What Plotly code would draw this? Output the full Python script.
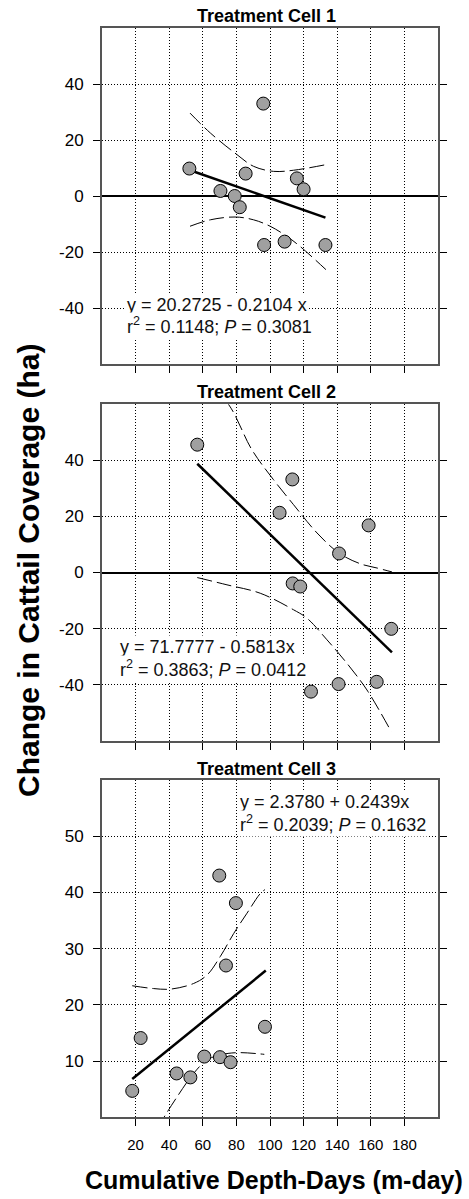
import plotly.graph_objects as go

W, H = 469, 1199

# ---------------- data ----------------
# Treatment Cell 1
c1_x = [52, 96, 85.5, 70.5, 79, 82, 116, 120, 96.5, 108.7, 133]
c1_y = [9.8, 33, 8, 1.8, 0, -4, 6.3, 2.4, -17.5, -16.3, -17.5]
c1_fit_x = [52, 133]
c1_fit_y = [9.3, -7.7]
c1_up_x = [52.4, 64.5, 80.3, 90.2, 102.1, 114, 133.3]
c1_up_y = [29.6, 22.5, 14.8, 10.6, 8.8, 9.2, 11.2]
c1_lo_x = [52.4, 64.5, 79.2, 90.2, 100.1, 110, 117.9, 133.3]
c1_lo_y = [-10.8, -8.5, -7.5, -8.5, -10.8, -14.4, -18, -26.3]

# Treatment Cell 2
c2_x = [56.7, 113.3, 105.7, 158.7, 141.1, 113.5, 118, 172.2, 124.4, 140.8, 163.5]
c2_y = [45.6, 33.2, 21.3, 16.8, 6.8, -3.9, -5, -20.1, -42.5, -39.8, -39]
c2_fit_x = [56.7, 172.6]
c2_fit_y = [38.8, -28.5]
c2_up_x = [56.7, 75.4, 89.2, 102.1, 114, 128, 141.1, 153.8, 163.7, 172.6]
c2_up_y = [72, 59.9, 43.8, 33.1, 24.2, 14.1, 6.9, 3.1, 1.6, 0.2]
c2_lo_x = [56.7, 74.4, 94.2, 114, 122, 133.9, 145.8, 157.7, 172.2]
c2_lo_y = [-1.8, -4.4, -7.4, -13.3, -16.3, -24, -32.4, -41.9, -56.8]

# Treatment Cell 3
c3_x = [18, 23, 44.4, 52.6, 60.9, 69.8, 70.2, 73.8, 76.5, 79.7, 97]
c3_y = [4.7, 14.1, 7.8, 7.1, 10.8, 43, 10.7, 27, 9.8, 38.1, 16.1]
c3_fit_x = [18, 97.5]
c3_fit_y = [6.8, 26.1]
c3_up_x = [18, 30.7, 40.7, 54.5, 62.5, 70.4, 78.4, 86.3, 94.2, 97]
c3_up_y = [23.4, 22.9, 22.8, 23.8, 25.3, 28.6, 32.7, 36.3, 39.8, 40.5]
c3_lo_x = [33, 36.9, 44.6, 54.5, 62.5, 70.4, 80.4, 96.6]
c3_lo_y = [-2, 0, 3.6, 7.8, 10.2, 11.1, 11.5, 11.2]

titles = ["Treatment Cell 1", "Treatment Cell 2", "Treatment Cell 3"]
eq_lines = [
    ["y = 20.2725 - 0.2104 x", "r<sup>2</sup> = 0.1148; <i>P</i> = 0.3081"],
    ["y = 71.7777 - 0.5813x", "r<sup>2</sup> = 0.3863; <i>P</i> = 0.0412"],
    ["y = 2.3780 + 0.2439x", "r<sup>2</sup> = 0.2039; <i>P</i> = 0.1632"],
]
x_ticks = [20, 40, 60, 80, 100, 120, 140, 160, 180]
x_tick_text = ["20", "40", "60", "80", "100", "120", "140", "160", "180"]
y_ticks_12 = [-40, -20, 0, 20, 40]
y_tick_text_12 = ["-40", "-20", "0", "20", "40"]
y_ticks_3 = [10, 20, 30, 40, 50]
y_tick_text_3 = ["10", "20", "30", "40", "50"]
x_title = "Cumulative Depth-Days (m-day)"
y_title = "Change in Cattail Coverage (ha)"

# ---------------- layout helpers ----------------
def px_x(p):
    return p / W

def px_y(p):
    return 1 - p / H

panels_px = [(28, 364), (404.3, 740.7), (780, 1117.3)]
x_dom = [px_x(102), px_x(438)]

fig = go.Figure()
sets = [
    (c1_x, c1_y, c1_fit_x, c1_fit_y, c1_up_x, c1_up_y, c1_lo_x, c1_lo_y),
    (c2_x, c2_y, c2_fit_x, c2_fit_y, c2_up_x, c2_up_y, c2_lo_x, c2_lo_y),
    (c3_x, c3_y, c3_fit_x, c3_fit_y, c3_up_x, c3_up_y, c3_lo_x, c3_lo_y),
]
dash = "15px,5px"
for i, (px_, py_, fx, fy, ux, uy, lx, ly) in enumerate(sets):
    xa = "x" if i == 0 else f"x{i+1}"
    ya = "y" if i == 0 else f"y{i+1}"
    fig.add_trace(go.Scatter(x=ux, y=uy, mode="lines", xaxis=xa, yaxis=ya,
                             line=dict(color="black", width=1, dash=dash, shape="spline"),
                             showlegend=False))
    fig.add_trace(go.Scatter(x=lx, y=ly, mode="lines", xaxis=xa, yaxis=ya,
                             line=dict(color="black", width=1, dash=dash, shape="spline"),
                             showlegend=False))
    fig.add_trace(go.Scatter(x=fx, y=fy, mode="lines", xaxis=xa, yaxis=ya,
                             line=dict(color="black", width=2.5), showlegend=False))
    fig.add_trace(go.Scatter(x=px_, y=py_, mode="markers", xaxis=xa, yaxis=ya,
                             marker=dict(size=13, color="#a0a0a0",
                                         line=dict(color="black", width=1)),
                             showlegend=False, cliponaxis=False))

axis_common = dict(showgrid=True, gridcolor="black", griddash="1px,2px", gridwidth=1,
                   showline=True, linecolor="#555555", linewidth=2,
                   ticks="outside", ticklen=7, tickcolor="black", tickwidth=1)

layout = dict(width=W, height=H, margin=dict(l=0, r=0, t=0, b=0),
              paper_bgcolor="white", plot_bgcolor="white",
              font=dict(family="Liberation Sans, Arial, sans-serif", color="black"))

for i in range(3):
    top, bot = panels_px[i]
    xk = "xaxis" if i == 0 else f"xaxis{i+1}"
    yk = "yaxis" if i == 0 else f"yaxis{i+1}"
    ya_name = "y" if i == 0 else f"y{i+1}"
    xa_name = "x" if i == 0 else f"x{i+1}"
    layout[xk] = dict(axis_common, domain=x_dom, range=[0, 200], anchor=ya_name,
                      tickvals=x_ticks, ticktext=x_tick_text, mirror=True, zeroline=False,
                      showticklabels=(i == 2), ticklabelstandoff=6,
                      tickfont=dict(size=15, color="black"))
    if i < 2:
        layout[yk] = dict(axis_common, domain=[px_y(bot), px_y(top)], range=[-60, 60],
                          anchor=xa_name, tickvals=y_ticks_12, ticktext=y_tick_text_12,
                          mirror="ticks",
                          zeroline=True, zerolinecolor="black", zerolinewidth=1.5,
                          tickfont=dict(size=17, color="black"), ticklabelstandoff=6)
    else:
        layout[yk] = dict(axis_common, domain=[px_y(bot), px_y(top)], range=[0, 60],
                          anchor=xa_name, tickvals=y_ticks_3, ticktext=y_tick_text_3,
                          mirror="ticks", zeroline=False,
                          tickfont=dict(size=17, color="black"), ticklabelstandoff=6)

fig.update_layout(**layout)

# annotations
ann = []
title_y = [16.3, 392, 769]
for i, t in enumerate(titles):
    ann.append(dict(text=f"<b>{t}</b>", xref="paper", yref="paper",
                    x=px_x(266), y=px_y(title_y[i]), xanchor="center", yanchor="middle",
                    showarrow=False, font=dict(size=18, color="black")))

eq_pos = [(124.7, 305, 325.5), (118, 646.7, 668.3), (238, 801.7, 823.3)]
for i, (lx, y1, y2) in enumerate(eq_pos):
    for txt, yy in zip(eq_lines[i], (y1, y2)):
        ann.append(dict(text=txt, xref="paper", yref="paper", x=px_x(lx), y=px_y(yy),
                        xanchor="left", yanchor="middle", showarrow=False,
                        bgcolor="white", borderpad=1,
                        font=dict(size=18, color="#111111")))

ann.append(dict(text=f"<b>{y_title}</b>", xref="paper", yref="paper",
                x=px_x(28), y=px_y(571), xanchor="center", yanchor="middle",
                textangle=-90, showarrow=False, font=dict(size=30, color="black")))
ann.append(dict(text=f"<b>{x_title}</b>", xref="paper", yref="paper",
                x=px_x(273.5), y=px_y(1180), xanchor="center", yanchor="middle",
                showarrow=False, font=dict(size=25, color="black")))
fig.update_layout(annotations=ann)

fig.write_html("out.html")
